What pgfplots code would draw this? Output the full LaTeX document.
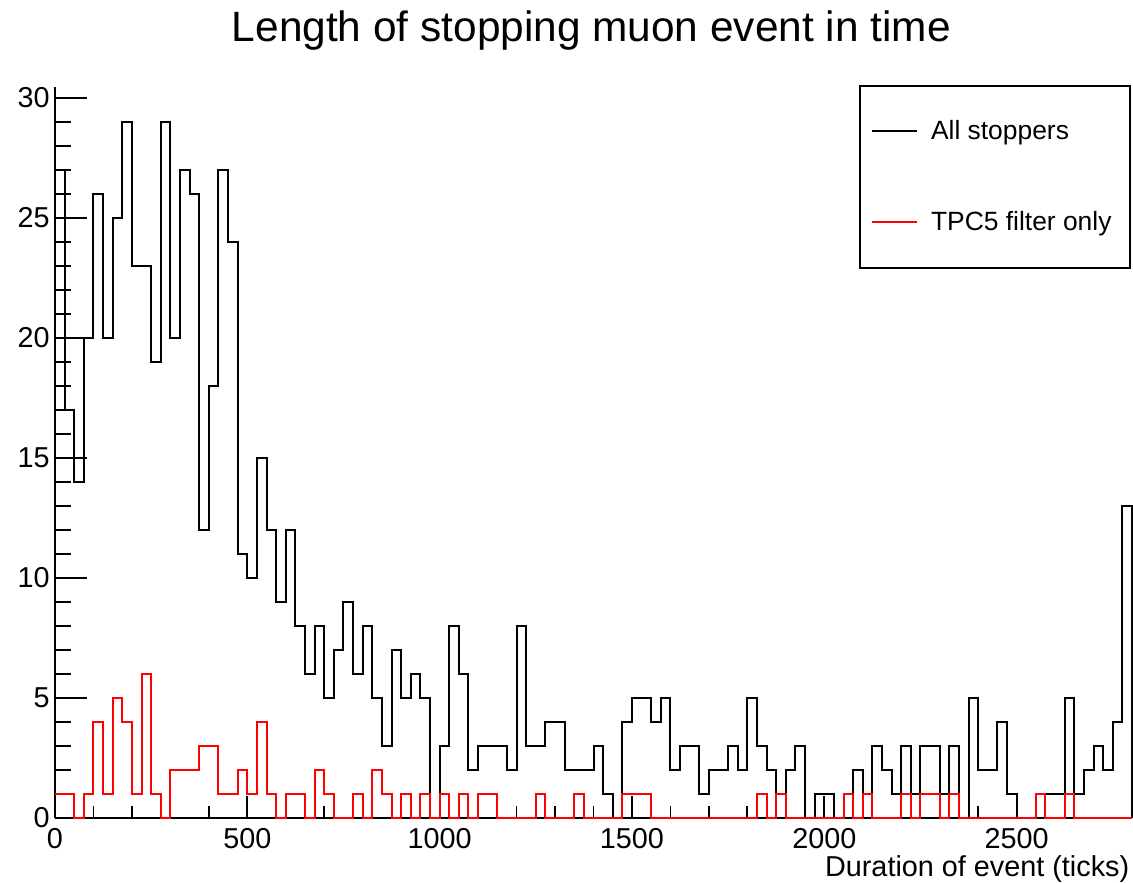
\documentclass[border=0pt]{standalone}
\usepackage{fontspec}
\setmainfont{Liberation Sans}
\usepackage{pgfplots}
\pgfplotsset{compat=1.18}
\usepackage{pgfplotstable}

\pgfplotstableread{
x y
0 27
25 17
50 14
75 20
100 26
125 20
150 25
175 29
200 23
225 23
250 19
275 29
300 20
325 27
350 26
375 12
400 18
425 27
450 24
475 11
500 10
525 15
550 12
575 9
600 12
625 8
650 6
675 8
700 5
725 7
750 9
775 6
800 8
825 5
850 3
875 7
900 5
925 6
950 5
975 0
1000 3
1025 8
1050 6
1075 2
1100 3
1125 3
1150 3
1175 2
1200 8
1225 3
1250 3
1275 4
1300 4
1325 2
1350 2
1375 2
1400 3
1425 1
1450 0
1475 4
1500 5
1525 5
1550 4
1575 5
1600 2
1625 3
1650 3
1675 1
1700 2
1725 2
1750 3
1775 2
1800 5
1825 3
1850 2
1875 1
1900 2
1925 3
1950 0
1975 1
2000 1
2025 0
2050 1
2075 2
2100 1
2125 3
2150 2
2175 1
2200 3
2225 1
2250 3
2275 3
2300 1
2325 3
2350 0
2375 5
2400 2
2425 2
2450 4
2475 1
2500 0
2525 0
2550 1
2575 1
2600 1
2625 5
2650 1
2675 2
2700 3
2725 2
2750 4
2775 13
2800 13
2800 0
}\allstop

\pgfplotstableread{
x y
0 1
25 1
50 0
75 1
100 4
125 1
150 5
175 4
200 1
225 6
250 1
275 0
300 2
325 2
350 2
375 3
400 3
425 1
450 1
475 2
500 1
525 4
550 1
575 0
600 1
625 1
650 0
675 2
700 1
725 0
750 0
775 1
800 0
825 2
850 1
875 0
900 1
925 0
950 1
975 0
1000 1
1025 0
1050 1
1075 0
1100 1
1125 1
1150 0
1175 0
1200 0
1225 0
1250 1
1275 0
1300 0
1325 0
1350 1
1375 0
1400 0
1425 0
1450 0
1475 1
1500 1
1525 1
1550 0
1575 0
1600 0
1625 0
1650 0
1675 0
1700 0
1725 0
1750 0
1775 0
1800 0
1825 1
1850 0
1875 1
1900 0
1925 0
1950 0
1975 0
2000 0
2025 0
2050 1
2075 0
2100 1
2125 0
2150 0
2175 0
2200 1
2225 0
2250 1
2275 1
2300 0
2325 1
2350 0
2375 0
2400 0
2425 0
2450 0
2475 0
2500 0
2525 0
2550 1
2575 0
2600 0
2625 1
2650 0
2675 0
2700 0
2725 0
2750 0
2775 0
2800 0
}\tpcfive

\begin{document}
\begin{tikzpicture}
\path[use as bounding box] (-27.5pt,-32pt) rectangle (539pt,409pt);
\begin{axis}[
  at={(0pt,0pt)}, anchor=south west,
  scale only axis,
  width=538.5pt, height=365.4pt,
  xmin=0, xmax=2800, ymin=0, ymax=30.45,
  clip=false,
  axis x line*=bottom, axis y line*=left,
  axis line style={line width=1pt, black},
  tick align=inside,
  xtick={0,500,...,2500}, ytick={0,5,...,30},
  minor x tick num=4, minor y tick num=4,
  xtick style={line width=0.9pt, black, /pgfplots/major tick length=10.85pt, /pgfplots/minor tick length=5.85pt},
  ytick style={line width=0.9pt, black, /pgfplots/major tick length=15.85pt, /pgfplots/minor tick length=8pt},
  /pgf/number format/assume math mode=true,
  /pgf/number format/1000 sep={},
  ticklabel style={font=\fontsize{14.4}{17}\selectfont},
  xticklabel style={inner sep=0pt, yshift=-5pt},
  yticklabel style={inner sep=0pt, xshift=-2.5pt},
  title={Length of stopping muon event in time},
  title style={at={(rel axis cs:0.498,1)}, anchor=base, yshift=17pt, inner sep=0pt, font=\fontsize{21.2}{25}\selectfont},
  xlabel={Duration of event (ticks)},
  xlabel style={at={(rel axis cs:1,0)}, anchor=base east, yshift=-29pt, xshift=-1.2pt, inner sep=0pt, font=\fontsize{14.4}{17}\selectfont},
  legend cell align=left,
  legend image code/.code={\draw[#1] (0pt,0pt) -- (22.5pt,0pt);},
  legend style={at={(rel axis cs:1,1)}, anchor=north east, xshift=-0.6pt, yshift=1pt,
    draw=black, line width=0.75pt, fill=white,
    inner xsep=5.5pt, inner ysep=0pt, row sep=0pt,
    font=\fontsize{13.2}{15.8}\selectfont,
    nodes={inner sep=0pt, minimum height=45.5pt},
    /tikz/every odd column/.append style={column sep=6.5pt}},
]
\addplot[const plot, black, line width=1pt, mark=none] table[x=x, y=y] {\allstop};
\addlegendentry{\makebox[94pt][l]{All stoppers}}
\addplot[const plot, red, line width=1pt, mark=none] table[x=x, y=y] {\tpcfive};
\addlegendentry{\makebox[94pt][l]{TPC5 filter only}}
\end{axis}
\end{tikzpicture}
\end{document}
